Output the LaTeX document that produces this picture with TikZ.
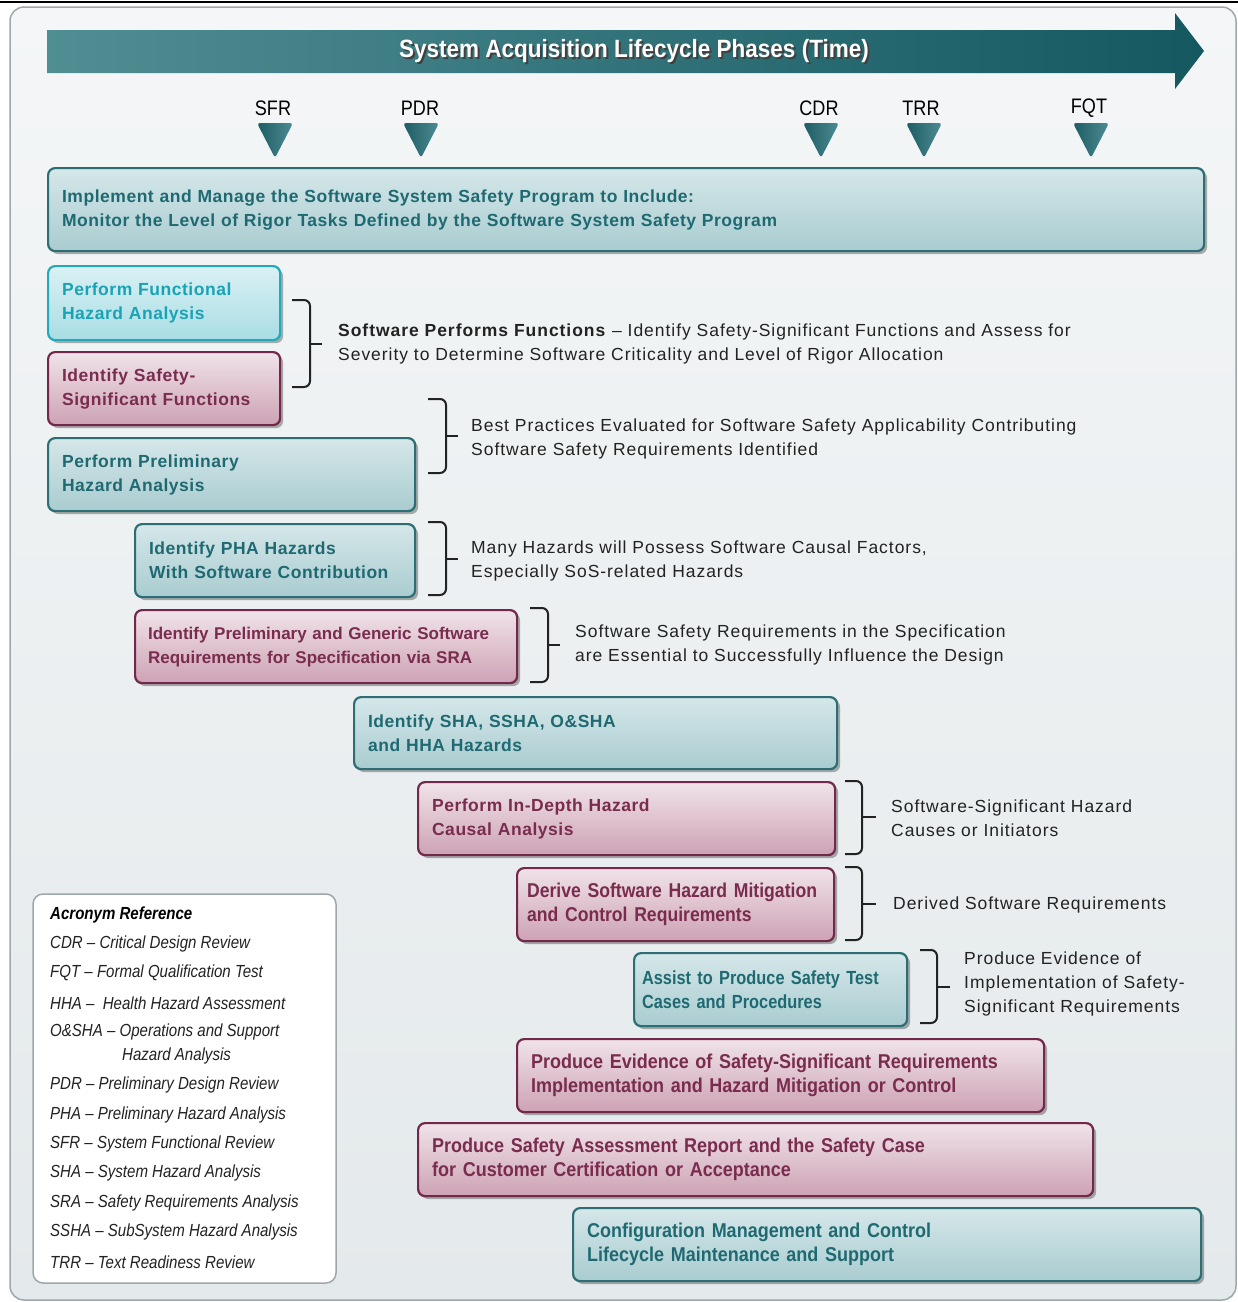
\documentclass[tikz,border=0pt]{standalone}
\usepackage{fontspec}
\setmainfont{Liberation Sans}
\newfontfamily\condfont[FakeStretch=0.9,Ligatures=TeX]{Liberation Sans}
\newfontfamily\condfontb[FakeStretch=0.88,Ligatures=TeX]{Liberation Sans}
\newfontfamily\condfontc[FakeStretch=0.86,Ligatures=TeX]{Liberation Sans}
\newfontfamily\legfont[FakeStretch=0.86,Ligatures=TeX]{Liberation Sans}
\newfontfamily\notefont[LetterSpace=5.5,Ligatures=TeX]{Liberation Sans}
\newfontfamily\boxfont[LetterSpace=3,Ligatures=TeX]{Liberation Sans}
\usetikzlibrary{shadows}

\definecolor{tealB}{HTML}{2D6E74}
\definecolor{tealT}{HTML}{1F6A72}
\definecolor{tealTop}{HTML}{D5E7E9}
\definecolor{tealBot}{HTML}{A9CCD0}
\definecolor{cyanB}{HTML}{22A9BA}
\definecolor{cyanT}{HTML}{1AA2B5}
\definecolor{cyanTop}{HTML}{DAF1F4}
\definecolor{cyanBot}{HTML}{A8DDE4}
\definecolor{marB}{HTML}{72284A}
\definecolor{marT}{HTML}{7A2C4F}
\definecolor{marTop}{HTML}{F0E3E9}
\definecolor{marBot}{HTML}{CDA2B4}
\definecolor{bgTop}{HTML}{F4F6F7}
\definecolor{bgBot}{HTML}{E4E9EB}
\definecolor{arrL}{HTML}{4F8E93}
\definecolor{arrR}{HTML}{155860}
\definecolor{triL}{HTML}{1E5C63}
\definecolor{triR}{HTML}{4C8C92}
\definecolor{txt}{HTML}{222222}
\definecolor{frameC}{HTML}{9EA7AC}

\begin{document}
\begin{tikzpicture}[x=1pt,y=-1pt,
  box/.style={draw, line width=2.2pt, rounded corners=7pt, anchor=north west,
    align=left, inner xsep=14pt, inner ysep=0pt,
    font=\boxfont\fontsize{17.5}{24}\selectfont\bfseries,
    drop shadow={shadow xshift=3pt, shadow yshift=-3pt, opacity=0.3, fill=black}},
  condbox/.style={font=\condfont\fontsize{20}{24}\selectfont\bfseries},
  tealbox/.style={box, draw=tealB, top color=tealTop, bottom color=tealBot, text=tealT},
  cyanbox/.style={box, draw=cyanB, top color=cyanTop, bottom color=cyanBot, text=cyanT},
  marbox/.style={box, draw=marB, top color=marTop, bottom color=marBot, text=marT},
  bracket/.style={draw=txt, line width=2pt, rounded corners=6pt},
  note/.style={anchor=west, align=left, text=txt, inner sep=0pt,
    font=\notefont\fontsize{17.5}{24}\selectfont},
  mslabel/.style={font=\condfontc\fontsize{21}{24}\selectfont, text=black},
  mstri/.style={left color=triL, right color=triR, rounded corners=3pt},
  legtxt/.style={anchor=west, inner sep=0pt, text=txt,
    font=\legfont\itshape\fontsize{17.5}{20}\selectfont}
]
\useasboundingbox (0,0) rectangle (1238,1302);

% frame and background
\draw[frameC, line width=1.5pt, rounded corners=14pt, top color=bgTop, bottom color=bgBot]
  (10,7) rectangle (1236,1300);
\draw[black, line width=2pt] (0,2) -- (1238,2);

% phase arrow
\path[left color=arrL, right color=arrR]
  (47,30) -- (1175,30) -- (1175,13) -- (1204,51) -- (1175,89) -- (1175,73) -- (47,73) -- cycle;
\node[text=black!75, font=\condfont\fontsize{25}{28}\selectfont\bfseries] (phaseshadow) at (636,53)
  {System Acquisition Lifecycle Phases (Time)};
\node[text=white, font=\condfont\fontsize{25}{28}\selectfont\bfseries] (phase) at (634,51)
  {System Acquisition Lifecycle Phases (Time)};

% milestones
\node[mslabel] (sfr) at (273,108) {SFR};
\node[mslabel] (pdr) at (420,108) {PDR};
\node[mslabel] (cdr) at (819,108) {CDR};
\node[mslabel] (trr) at (921,108) {TRR};
\node[mslabel] (fqt) at (1089,108) {FQT};
\foreach \cx in {275,421,821,924,1091}{
  \path[mstri] (\cx-18,123) -- (\cx+18,123) -- (\cx,158) -- cycle;
}

% boxes
\node[tealbox, minimum width=1156pt, minimum height=83pt, text width=1128pt] (b1) at (47,167)
  {Implement and Manage the Software System Safety Program to Include:\\
   Monitor the Level of Rigor Tasks Defined by the Software System Safety Program};
\node[cyanbox, minimum width=232pt, minimum height=74pt, text width=204pt] (b2) at (47,265)
  {Perform Functional\\Hazard Analysis};
\node[marbox, minimum width=232pt, minimum height=73pt, text width=204pt] (b3) at (47,351)
  {Identify Safety-\\Significant Functions};
\node[tealbox, minimum width=367pt, minimum height=73pt, text width=339pt] (b4) at (47,437)
  {Perform Preliminary\\Hazard Analysis};
\node[tealbox, minimum width=280pt, minimum height=73pt, text width=252pt] (b5) at (134,523)
  {Identify PHA Hazards\\With Software Contribution};
\node[marbox, font=\fontsize{17}{24}\selectfont\bfseries, minimum width=382pt, minimum height=73pt, text width=356pt, inner xsep=13pt] (b6) at (134,609)
  {Identify Preliminary and Generic Software\\Requirements for Specification via SRA};
\node[tealbox, minimum width=483pt, minimum height=72pt, text width=455pt] (b7) at (353,696)
  {Identify SHA, SSHA, O\&SHA\\and HHA Hazards};
\node[marbox, minimum width=417pt, minimum height=73pt, text width=389pt] (b8) at (417,781)
  {Perform In-Depth Hazard\\Causal Analysis};
\node[marbox, font=\condfontb\fontsize{20}{24}\selectfont\bfseries, minimum width=317pt, minimum height=73pt, text width=297pt, inner xsep=10pt] (b9) at (516,867)
  {Derive Software Hazard Mitigation\\and Control Requirements};
\node[tealbox, font=\condfontc\fontsize{19}{24}\selectfont\bfseries, minimum width=273pt, minimum height=73pt, text width=257pt, inner xsep=8pt] (b10) at (633,952)
  {Assist to Produce Safety Test\\Cases and Procedures};
\node[marbox, condbox, minimum width=527pt, minimum height=73pt, text width=499pt] (b11) at (516,1038)
  {Produce Evidence of Safety-Significant Requirements\\Implementation and Hazard Mitigation or Control};
\node[marbox, condbox, minimum width=675pt, minimum height=73pt, text width=647pt] (b12) at (417,1122)
  {Produce Safety Assessment Report and the Safety Case\\for Customer Certification or Acceptance};
\node[tealbox, condbox, minimum width=628pt, minimum height=73pt, text width=600pt] (b13) at (572,1207)
  {Configuration Management and Control\\Lifecycle Maintenance and Support};

% brackets and notes
\draw[bracket] (292,300) -- (310,300) -- (310,387) -- (292,387);
\draw[bracket] (310,344) -- (322,344);
\node[note] (n1) at (338,344)
  {\textbf{Software Performs Functions} – Identify Safety-Significant Functions and Assess for\\
   Severity to Determine Software Criticality and Level of Rigor Allocation};

\draw[bracket] (428,399) -- (446,399) -- (446,473) -- (428,473);
\draw[bracket] (446,436) -- (458,436);
\node[note] (n2) at (471,439)
  {Best Practices Evaluated for Software Safety Applicability Contributing\\
   Software Safety Requirements Identified};

\draw[bracket] (428,522) -- (446,522) -- (446,595) -- (428,595);
\draw[bracket] (446,559) -- (458,559);
\node[note] (n3) at (471,561)
  {Many Hazards will Possess Software Causal Factors,\\Especially SoS-related Hazards};

\draw[bracket] (530,608) -- (548,608) -- (548,682) -- (530,682);
\draw[bracket] (548,645) -- (560,645);
\node[note] (n4) at (575,645)
  {Software Safety Requirements in the Specification\\are Essential to Successfully Influence the Design};

\draw[bracket] (845,781) -- (862,781) -- (862,854) -- (845,854);
\draw[bracket] (862,817) -- (876,817);
\node[note] (n5) at (891,818)
  {Software-Significant Hazard\\Causes or Initiators};

\draw[bracket] (845,867) -- (862,867) -- (862,940) -- (845,940);
\draw[bracket] (862,904) -- (876,904);
\node[note] (n6) at (893,905)
  {Derived Software Requirements};

\draw[bracket] (920,950) -- (937,950) -- (937,1023) -- (920,1023);
\draw[bracket] (937,987) -- (950,987);
\node[note] (n7) at (964,984)
  {Produce Evidence of\\Implementation of Safety-\\Significant Requirements};

% legend
\draw[frameC, line width=1.5pt, rounded corners=10pt, fill=white] (33,894) rectangle (336,1283);
\node[legtxt, font=\legfont\bfseries\itshape\fontsize{17.5}{20}\selectfont, text=black] (lt) at (50,915) {Acronym Reference};
\node[legtxt] (l1) at (50,944) {CDR – Critical Design Review};
\node[legtxt] (l2) at (50,973) {FQT – Formal Qualification Test};
\node[legtxt] (l3) at (50,1003) {HHA –\ \ Health Hazard Assessment};
\node[legtxt] (l4) at (50,1032) {O\&SHA – Operations and Support};
\node[legtxt] (l4b) at (122,1056) {Hazard Analysis};
\node[legtxt] (l5) at (50,1085) {PDR – Preliminary Design Review};
\node[legtxt] (l6) at (50,1115) {PHA – Preliminary Hazard Analysis};
\node[legtxt] (l7) at (50,1144) {SFR – System Functional Review};
\node[legtxt] (l8) at (50,1173) {SHA – System Hazard Analysis};
\node[legtxt] (l9) at (50,1203) {SRA – Safety Requirements Analysis};
\node[legtxt] (l10) at (50,1232) {SSHA – SubSystem Hazard Analysis};
\node[legtxt] (l11) at (50,1262) {TRR – Text Readiness Review};
\end{tikzpicture}
\end{document}
